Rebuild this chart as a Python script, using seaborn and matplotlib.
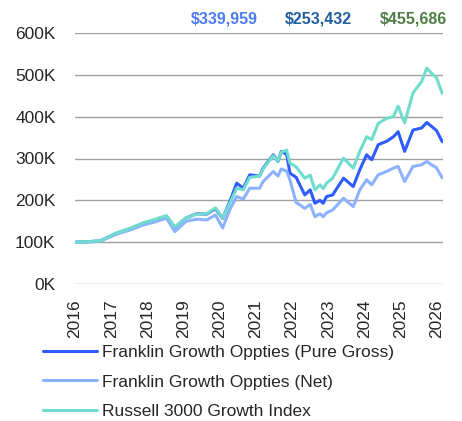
import matplotlib
matplotlib.use("Agg")
import matplotlib.pyplot as plt
import seaborn as sns
import pandas as pd

# values, in thousands of dollars
years = [2016.0, 2016.33, 2016.69, 2017.14, 2017.55, 2017.88, 2018.16, 2018.44, 2018.53, 2018.76,
         2019.07, 2019.37, 2019.64, 2019.88, 2020.08, 2020.29, 2020.47, 2020.65, 2020.83, 2021.10,
         2021.20, 2021.48, 2021.61, 2021.70, 2021.85, 2021.94, 2022.11, 2022.35, 2022.50, 2022.63,
         2022.77, 2022.86, 2022.95, 2023.12, 2023.42, 2023.69, 2023.87, 2024.06, 2024.20, 2024.38,
         2024.61, 2024.80, 2024.93, 2025.11, 2025.34, 2025.58, 2025.72, 2025.85, 2025.99, 2026.15]

gross = [100, 101, 103, 121, 133, 145, 152, 160, 162, 135,
         158, 168, 167, 180, 157, 200, 241, 229, 261, 258,
         277, 309, 293, 317, 310, 265, 255, 213, 225, 193,
         200, 193, 209, 213, 253, 233, 273, 309, 297, 333,
         341, 352, 364, 317, 368, 373, 386, 377, 367, 339.959]

net = [100, 100, 102, 119, 130, 141, 147, 155, 157, 125,
       150, 155, 153, 165, 134, 180, 209, 203, 229, 229,
       245, 269, 258, 275, 270, 249, 195, 181, 190, 161,
       168, 161, 170, 177, 205, 185, 225, 249, 237, 261,
       269, 277, 281, 245, 281, 285, 293, 285, 278, 253.432]

russell = [100, 101, 103, 122, 134, 146, 153, 161, 163, 136,
           158, 167, 168, 182, 158, 196, 229, 225, 255, 258,
           275, 307, 293, 315, 320, 289, 280, 253, 260, 225,
           237, 228, 241, 253, 301, 277, 317, 352, 345, 384,
           396, 400, 425, 385, 457, 484, 516, 504, 493, 455.686]

names = ["Franklin Growth Oppties (Pure Gross)",
         "Franklin Growth Oppties (Net)",
         "Russell 3000 Growth Index"]
end_labels = ["$339,959", "$253,432", "$455,686"]
label_colors = ["#4a7bf4", "#1f5e9e", "#4f7d46"]
line_colors = ["#2f5cff", "#8cb2ff", "#6fdccd"]

df = pd.DataFrame({
    "year": years * 3,
    "value": [v * 1000 for v in gross + net + russell],
    "series": [names[0]] * len(years) + [names[1]] * len(years) + [names[2]] * len(years),
})

sns.set_style("white")
plt.rcParams["font.family"] = ["Liberation Sans", "DejaVu Sans"]

fig = plt.figure(figsize=(4.62, 4.21), dpi=100)
ax = fig.add_axes([75 / 462, 1 - 284 / 421, 368 / 462, 251 / 421])

sns.lineplot(data=df, x="year", y="value", hue="series", hue_order=names,
             palette=line_colors, linewidth=2.2, ax=ax, legend=False)

ax.set_xlim(2016, 2026.17)
ax.set_ylim(0, 600000)
ax.set_xticks(range(2016, 2027))
ax.set_xticklabels([str(y) for y in range(2016, 2027)], rotation=90, fontsize=12.5)
ax.set_yticks(range(0, 600001, 100000))
ax.set_yticklabels([f"{int(v / 1000)}K" for v in range(0, 600001, 100000)], fontsize=12.5)
ax.tick_params(axis="y", length=0, pad=14)
ax.tick_params(axis="x", length=0, pad=11)
ax.set_xlabel("")
ax.set_ylabel("")
ax.grid(axis="y", color="#a0a0a0", linewidth=1)
ax.set_axisbelow(True)
for s in ax.spines.values():
    s.set_visible(False)

# ending values above the plot
for xpos, txt, col in zip([224.5, 318.5, 413], end_labels, label_colors):
    fig.text(xpos / 462, 1 - 18.5 / 421, txt, color=col, fontsize=11.5, fontweight="bold",
             ha="center", va="center")

handles = [plt.Line2D([], [], color=c, linewidth=2.2) for c in line_colors]
fig.legend(handles, names, loc="upper left", bbox_to_anchor=(43 / 462, 1 - 345 / 421),
           frameon=False, fontsize=12.5, handlelength=3.1,
           handletextpad=0.3, labelspacing=0.82, borderpad=0, borderaxespad=0)

fig.savefig("out.png", dpi=100)
